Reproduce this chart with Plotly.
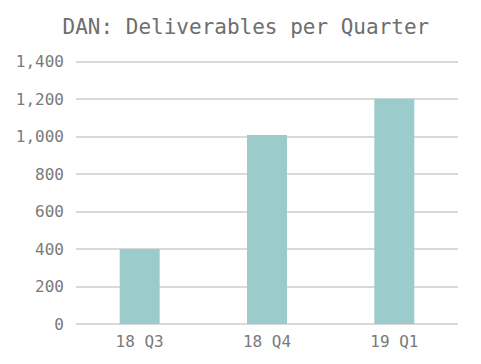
import plotly.graph_objects as go

categories = ["18 Q3", "18 Q4", "19 Q1"]
values = [400, 1010, 1203]
y_ticks = [0, 200, 400, 600, 800, 1000, 1200, 1400]
y_tick_labels = ["0", "200", "400", "600", "800", "1,000", "1,200", "1,400"]

FONT = "DejaVu Sans Mono"
TEXT = "#7a7a7a"

fig = go.Figure(go.Bar(x=categories, y=values, marker_color="#9bcbcb",
                       marker_line_width=0, width=0.314))

fig.update_layout(
    width=473, height=356,
    margin=dict(l=68, r=23, t=52, b=40),
    paper_bgcolor="white", plot_bgcolor="white",
    title=dict(text="DAN: Deliverables per Quarter", x=0.503, xanchor="center",
               y=0.947, yanchor="middle",
               font=dict(family=FONT, size=21, color="#6e6e6e")),
    font=dict(family=FONT, size=16, color=TEXT),
    showlegend=False,
)
fig.update_xaxes(showgrid=False, showline=False, ticks="", ticklabelstandoff=6,
                 automargin=False,
                 tickfont=dict(family=FONT, size=16, color=TEXT))
fig.update_yaxes(range=[0, 1410], tickvals=y_ticks, ticktext=y_tick_labels,
                 showgrid=True, gridcolor="#d9d9d9", gridwidth=1.5,
                 zeroline=True, zerolinecolor="#d9d9d9", zerolinewidth=2,
                 showline=False, ticks="", ticklabelstandoff=11,
                 automargin=False,
                 tickfont=dict(family=FONT, size=16, color=TEXT))

fig.write_html("out.html")
